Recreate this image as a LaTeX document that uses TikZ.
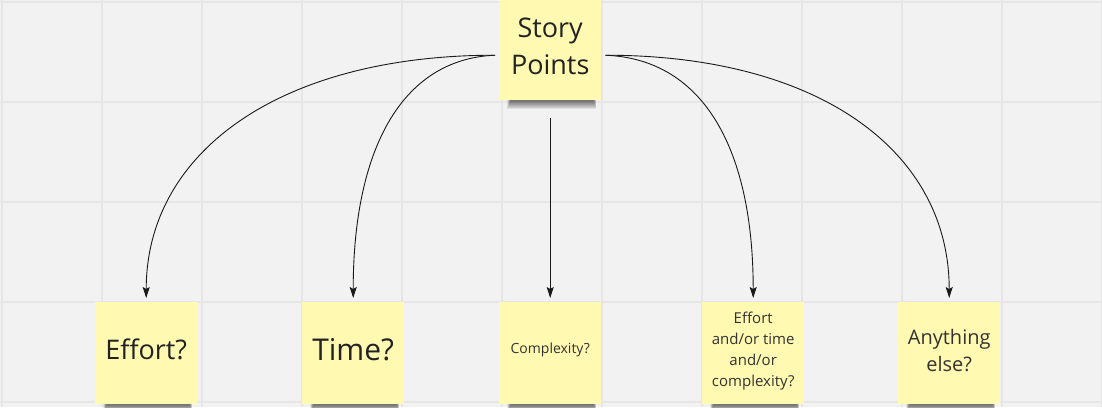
\documentclass[tikz,border=0pt]{standalone}
\usepackage{fontspec}
\setmainfont{Open Sans}
\usetikzlibrary{arrows.meta}
\definecolor{bg}{HTML}{F2F2F2}
\definecolor{gridc}{HTML}{E6E6E6}
\definecolor{notec}{HTML}{FFF9B1}
\definecolor{inkc}{HTML}{222222}
\tikzset{
  note/.style={fill=notec, draw=none, minimum width=102pt, minimum height=102pt, inner sep=0pt, anchor=north west},
  ntext/.style={text=inkc, align=center, inner sep=0pt},
  link/.style={draw=black!90, line width=0.9pt, -{Stealth[length=11pt,width=7pt,inset=2pt]}},
  shadowpiece/.style={fill=black, opacity=0.075, draw=none},
}
\newcommand{\noteshadow}[1]{%
  \foreach \i in {1,...,9}{%
    \fill[shadowpiece] ([xshift={12-\i*0.4}]#1.south west) rectangle ([xshift={-8+\i*0.3},yshift=-\i]#1.south east);
  }%
}
\begin{document}
\begin{tikzpicture}[x=1pt,y=-1pt]
\useasboundingbox (0,0) rectangle (1102,407);
\fill[bg] (0,0) rectangle (1102,407);
\foreach \x in {2,102,...,1102} \draw[gridc, line width=1.1pt] (\x,0) -- (\x,407);
\foreach \y in {2,102,...,402} \draw[gridc, line width=1.1pt] (0,\y) -- (1102,\y);

% notes
\node[note] (sp) at (499,-2) {};
\node[note] (e) at (95,302) {};
\node[note] (t) at (302,302) {};
\node[note] (c) at (499,302) {};
\node[note] (ac) at (702,302) {};
\node[note] (ae) at (898,302) {};

% shadows
\noteshadow{sp}
\noteshadow{e}
\noteshadow{t}
\noteshadow{c}
\noteshadow{ac}
\noteshadow{ae}

\node[ntext, font=\fontsize{27}{37}\selectfont] (spt) at ([yshift=3]sp.center) {Story\\Points};
\node[ntext, font=\fontsize{27}{36}\selectfont] (et) at ([yshift=4]e.center) {Effort?};
\node[ntext, font=\fontsize{30}{40}\selectfont] (tt) at ([yshift=4]t.center) {Time?};
\node[ntext, font=\fontsize{14}{20}\selectfont, text=black!80] (ct) at ([yshift=3]c.center) {Complexity?};
\node[ntext, font=\fontsize{15}{21}\selectfont, text=black!80] (act) at ([yshift=2]ac.center) {Effort\\and/or time\\and/or\\complexity?};
\node[ntext, font=\fontsize{20}{27}\selectfont, text=black!80] (aet) at ([yshift=3]ae.center) {Anything\\else?};

% connectors
\coordinate (spl) at ([xshift=-4,yshift=-6]sp.west);
\coordinate (spr) at ([xshift=4,yshift=-6]sp.east);
\coordinate (spb) at ([yshift=-18]sp.south);
\draw[link, shorten >=4pt] (spl) .. controls +(-215,0) and +(0,-150) .. (e.north);
\draw[link, shorten >=4pt] (spl) .. controls +(-95,4) and +(0,-150) .. (t.north);
\draw[link, shorten >=4pt] (spb) -- (c.north);
\draw[link, shorten >=4pt] (spr) .. controls +(100,4) and +(0,-150) .. (ac.north);
\draw[link, shorten >=4pt] (spr) .. controls +(215,0) and +(0,-150) .. (ae.north);
\end{tikzpicture}
\end{document}
